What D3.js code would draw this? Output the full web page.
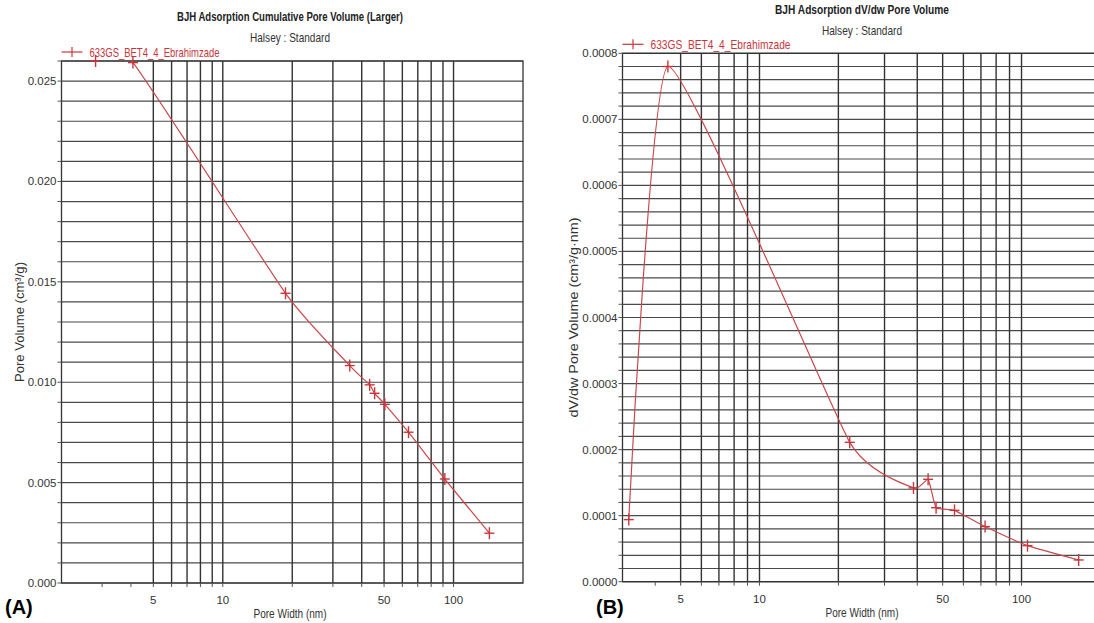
<!DOCTYPE html>
<html>
<head>
<meta charset="utf-8">
<script src="https://d3js.org/d3.v7.min.js"></script>
<style>
  body { margin: 0; background: #fff; }
  svg { display: block; font-family: "Liberation Sans", Arial, sans-serif; }
</style>
</head>
<body>
<svg width="1094" height="623"></svg>
<script>
// series name shared by both panels
var seriesName = "633GS_BET4_4_Ebrahimzade";

// (A) cumulative pore volume
var widthA  = [2.81, 4.08, 18.7, 35.5, 43.3, 45.5, 50.4, 63.8, 91.7, 143];
var volumeA = [0.0260, 0.02592, 0.01443, 0.01083, 0.00987, 0.00945, 0.0089, 0.00751, 0.00518, 0.00248];

// (B) dV/dw pore volume
var widthB = [3.17, 4.47, 22.1, 38.7, 44.0, 47.2, 55.5, 72.6, 105.4, 165.2];
var dvdwB  = [0.000094, 0.00078, 0.000211, 0.000142, 0.000155, 0.000112, 0.000108, 0.0000835, 0.0000546, 0.0000329];

// tick values
var xLabelTicks = [5, 10, 50, 100];
var xGridTicks  = [5, 6, 7, 8, 9, 10, 20, 30, 40, 50, 60, 70, 80, 90, 100];
var xMinorTicks = [3, 4, 5, 6, 7, 8, 9, 10, 20, 30, 40, 50, 60, 70, 80, 90, 100];
var yTicksA = [0, 0.005, 0.010, 0.015, 0.020, 0.025];
var yTicksB = [0, 0.0001, 0.0002, 0.0003, 0.0004, 0.0005, 0.0006, 0.0007, 0.0008];

var svg = d3.select("svg");
var red = "#c8363c";

// the original uses a condensed face, squeeze text to its width
function squeeze(sel, w) {
  sel.attr("textLength", w).attr("lengthAdjust", "spacingAndGlyphs");
}

function panel(o) {
  var g = svg.append("g");
  var x = d3.scaleLog().domain(o.xDomain).range([o.left, o.right]);
  var y = d3.scaleLinear().domain(o.yDomain).range([o.bottom, o.top]);

  g.append("clipPath").attr("id", o.id + "clip")
    .append("rect")
    .attr("x", o.left).attr("y", o.top)
    .attr("width", o.right - o.left).attr("height", o.bottom - o.top);

  // horizontal grid
  var hLines = d3.range(0, o.yCount + 1).map(function(i) { return o.yDomain[1] * i / o.yCount; });
  g.append("g").selectAll("line").data(hLines).enter().append("line")
    .attr("x1", o.left).attr("x2", Math.min(o.right, 1094))
    .attr("y1", d => y(d)).attr("y2", d => y(d))
    .attr("stroke", "#4a4a4a").attr("stroke-width", 1.2);

  // vertical grid
  g.append("g").selectAll("line").data(xGridTicks).enter().append("line")
    .attr("x1", d => x(d)).attr("x2", d => x(d))
    .attr("y1", o.top).attr("y2", o.bottom)
    .attr("stroke", "#333").attr("stroke-width", 1.4);

  // frame
  g.append("rect")
    .attr("x", o.left).attr("y", o.top)
    .attr("width", o.right - o.left).attr("height", o.bottom - o.top)
    .attr("fill", "none").attr("stroke", "#333").attr("stroke-width", 1.3);

  // y axis: minor ticks on every grid line, labels at major values
  g.append("g").selectAll("line").data(hLines).enter().append("line")
    .attr("x1", o.left - 4).attr("x2", o.left)
    .attr("y1", d => y(d)).attr("y2", d => y(d))
    .attr("stroke", "#555");
  g.append("g").selectAll("text").data(o.yTicks).enter().append("text")
    .attr("x", o.left - 5).attr("y", d => y(d) + 4)
    .attr("text-anchor", "end")
    .style("font-size", "11.5px").style("fill", "#333")
    .text(d => d.toFixed(o.yDigits));

  // x axis ticks and labels
  g.append("g").selectAll("line").data(xMinorTicks.filter(d => d > o.xDomain[0])).enter().append("line")
    .attr("x1", d => x(d)).attr("x2", d => x(d))
    .attr("y1", o.bottom).attr("y2", o.bottom + 4)
    .attr("stroke", "#555");
  g.append("g").selectAll("text").data(xLabelTicks).enter().append("text")
    .attr("x", d => x(d)).attr("y", o.bottom + 21)
    .attr("text-anchor", "middle")
    .style("font-size", "11.5px").style("fill", "#333")
    .text(d => d);

  // titles
  g.append("text")
    .attr("x", o.cx).attr("y", o.titleY)
    .attr("text-anchor", "middle")
    .style("font-size", "13.5px").style("font-weight", "bold").style("fill", "#222")
    .text(o.title)
    .call(squeeze, o.titleW);
  g.append("text")
    .attr("x", o.cx).attr("y", o.titleY + 21)
    .attr("text-anchor", "middle")
    .style("font-size", "13px").style("fill", "#333")
    .text("Halsey : Standard")
    .call(squeeze, 80);

  g.append("text")
    .attr("x", o.cx).attr("y", o.bottom + 35)
    .attr("text-anchor", "middle")
    .style("font-size", "13px").style("fill", "#333")
    .text("Pore Width (nm)")
    .call(squeeze, 73);
  g.append("text")
    .attr("transform", "translate(" + o.yLabelX + "," + ((o.top + o.bottom) / 2) + ") rotate(-90)")
    .attr("text-anchor", "middle")
    .style("font-size", "13px").style("fill", "#333")
    .text(o.yLabel)
    .call(squeeze, o.yLabelW);

  // legend
  var ly = o.top - 9;
  g.append("line")
    .attr("x1", o.left).attr("x2", o.left + 21)
    .attr("y1", ly).attr("y2", ly)
    .attr("stroke", red).attr("stroke-width", 1.2);
  g.append("line")
    .attr("x1", o.left + 10.5).attr("x2", o.left + 10.5)
    .attr("y1", ly - 5).attr("y2", ly + 5)
    .attr("stroke", red).attr("stroke-width", 1.2);
  g.append("text")
    .attr("x", o.left + 28).attr("y", ly + 4.5)
    .style("font-size", "13.5px").style("fill", red)
    .text(seriesName)
    .call(squeeze, o.legendW);

  // series line + markers
  var pts = o.xs.map((d, i) => [x(d), y(o.ys[i])]);
  g.append("path")
    .attr("clip-path", "url(#" + o.id + "clip)")
    .attr("d", d3.line().curve(o.curve)(pts))
    .attr("fill", "none").attr("stroke", "#c9484c").attr("stroke-width", 1.2);

  var m = g.append("g").selectAll("g").data(pts).enter().append("g")
    .attr("transform", d => "translate(" + d[0] + "," + d[1] + ")");
  m.append("line").attr("x1", -5).attr("x2", 5).attr("stroke", red).attr("stroke-width", 1.4);
  m.append("line").attr("y1", -6).attr("y2", 6).attr("stroke", red).attr("stroke-width", 1.4);

  // panel letter
  g.append("text")
    .attr("x", o.letterX).attr("y", 614)
    .style("font-size", "20px").style("font-weight", "bold").style("fill", "#000")
    .text(o.letter);
}

panel({
  id: "a", left: 61.5, right: 523, top: 61, bottom: 583,
  xDomain: [2, 200], yDomain: [0, 0.026], yCount: 26,
  yTicks: yTicksA, yDigits: 3,
  xs: widthA, ys: volumeA, curve: d3.curveCardinal.tension(0.5),
  cx: 290, titleY: 21, titleW: 226,
  title: "BJH Adsorption Cumulative Pore Volume (Larger)",
  yLabel: "Pore Volume (cm³/g)", yLabelX: 24, yLabelW: 120,
  legendW: 130,
  letter: "(A)", letterX: 5
});

panel({
  id: "b", left: 622.5, right: 1100.4, top: 53.3, bottom: 581.7,
  xDomain: [3, 200], yDomain: [0, 0.0008], yCount: 40,
  yTicks: yTicksB, yDigits: 4,
  xs: widthB, ys: dvdwB, curve: d3.curveCardinal.tension(0.55),
  cx: 862, titleY: 14, titleW: 174,
  title: "BJH Adsorption dV/dw Pore Volume",
  yLabel: "dV/dw Pore Volume (cm³/g·nm)", yLabelX: 578, yLabelW: 200,
  legendW: 140,
  letter: "(B)", letterX: 596
});
</script>
</body>
</html>
